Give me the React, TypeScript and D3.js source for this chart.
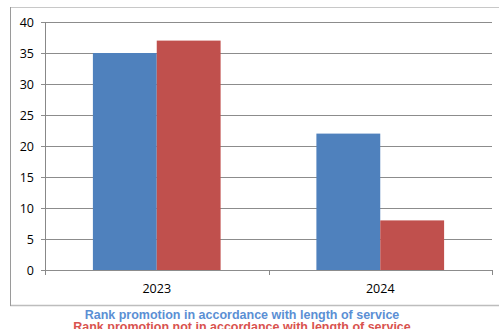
import React from "react";
import * as d3 from "d3";

const categories = ["2023", "2024"];
const seriesNames = [
  "Rank promotion in accordance with length of service",
  "Rank promotion not in accordance with length of service",
];
const inAccordance = [35, 22];
const notInAccordance = [37, 8];
const yTicks = [0, 5, 10, 15, 20, 25, 30, 35, 40];
const colors = ["#4F81BD", "#C0504D"];

export default function App() {
  const W = 499;
  const H = 329;
  const left = 45;
  const right = 492;
  const top = 22;
  const bottom = 270;

  const x = d3.scaleBand<string>().domain(categories).range([left, right]);
  const y = d3.scaleLinear().domain([0, 40]).range([bottom, top]);
  const inner = d3
    .scaleBand<number>()
    .domain([0, 1])
    .range([0, x.bandwidth()])
    .paddingInner(0)
    .paddingOuter(0.75);

  const series = [inAccordance, notInAccordance];
  const font = "'Liberation Sans', Arial, sans-serif";
  const tickFont = "'Open Sans', 'DejaVu Sans', sans-serif";

  return (
    <svg
      width={W}
      height={H}
      style={{ position: "absolute", left: 0, top: 0, background: "#fff" }}
      fontFamily={font}
    >
      <rect x={0} y={0} width={W} height={H} fill="#fff" />
      {/* chart frame */}
      <line x1={10} x2={W + 5} y1={7.5} y2={7.5} stroke="#c8c8c8" strokeWidth={1} />
      <line x1={10} x2={W + 5} y1={305.5} y2={305.5} stroke="#bdbdbd" strokeWidth={1.5} />
      <line x1={10.5} x2={10.5} y1={7} y2={306} stroke="#9a9a9a" strokeWidth={1} />

      {/* gridlines and value labels */}
      {yTicks.map((t) => (
        <g key={t}>
          <line
            x1={left - 4}
            x2={right}
            y1={Math.round(y(t)) + 0.5}
            y2={Math.round(y(t)) + 0.5}
            stroke="#8c8c8c"
            strokeWidth={1}
          />
          <text
            x={34}
            y={y(t)}
            dy="0.36em"
            textAnchor="end"
            fontSize={12.5}
            fill="#000"
            fontFamily={tickFont}
          >
            {t}
          </text>
        </g>
      ))}

      {/* axes */}
      <line x1={left + 0.5} x2={left + 0.5} y1={top} y2={bottom + 4} stroke="#888" />
      {[left, x(categories[1]) as number, right].map((v, i) => (
        <line
          key={i}
          x1={Math.round(v) + 0.5}
          x2={Math.round(v) + 0.5}
          y1={bottom}
          y2={bottom + 5}
          stroke="#888"
        />
      ))}

      {/* bars */}
      {categories.map((c, ci) =>
        series.map((s, si) => (
          <rect
            key={c + si}
            x={(x(c) as number) + (inner(si) as number)}
            y={y(s[ci])}
            width={inner.bandwidth()}
            height={bottom - y(s[ci])}
            fill={colors[si]}
          />
        ))
      )}

      {/* category labels */}
      {categories.map((c) => (
        <text
          key={c}
          x={(x(c) as number) + x.bandwidth() / 2}
          y={292.5}
          textAnchor="middle"
          fontSize={12.5}
          fontFamily={tickFont}
          fill="#000"
        >
          {c}
        </text>
      ))}

      {/* legend */}
      {seriesNames.map((n, i) => (
        <text
          key={n}
          x={242}
          y={318.5 + i * 12.5}
          textAnchor="middle"
          fontSize={12.5}
          fontWeight="bold"
          fill={i === 0 ? "#5b8fd4" : "#d9534f"}
        >
          {n}
        </text>
      ))}
    </svg>
  );
}
